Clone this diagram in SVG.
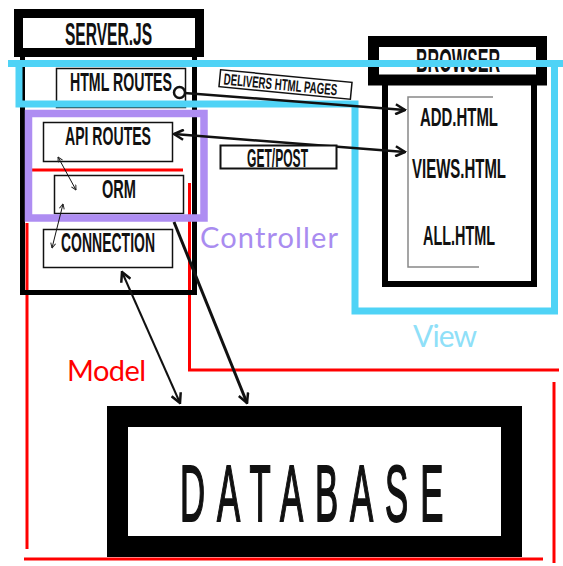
<svg xmlns="http://www.w3.org/2000/svg" width="563" height="566" viewBox="0 0 563 566">
<defs>
<style>
.lbl{font-family:"Liberation Sans",Arial,sans-serif;font-weight:bold;fill:#111}
.box{fill:#fff;stroke:#111;stroke-width:1.5}
.frame{fill:none;stroke:#000}
.red{fill:none;stroke:#f00;stroke-width:3}
.conn{fill:none;stroke:#111}
.tag{font-family:Lato,"Open Sans",sans-serif}
</style>
<marker id="ah" viewBox="0 0 12 12" markerWidth="12" markerHeight="12" refX="10.5" refY="6" markerUnits="userSpaceOnUse" orient="auto-start-reverse">
<path d="M1,1 L10.5,6 L1,11" fill="none" stroke="#111" stroke-width="2.5"/>
</marker>
<marker id="ahs" viewBox="0 0 6 6" markerWidth="6" markerHeight="6" refX="5.5" refY="3" markerUnits="userSpaceOnUse" orient="auto-start-reverse">
<path d="M0.5,0.5 L5.5,3 L0.5,5.5" fill="none" stroke="#222" stroke-width="1"/>
</marker>
</defs>
<rect width="563" height="566" fill="#fff"/>

<g id="model-region">
<path class="red" d="M32,170 H183"/>
<path class="red" d="M189.5,183 V370 H559"/>
<path class="red" d="M27,223 V549"/>
<path class="red" d="M24,559 H543"/>
<path class="red" d="M554,382 V563"/>
<text class="tag" x="67" y="381" font-size="29" fill="#f00" textLength="79" lengthAdjust="spacing">Model</text>
</g>

<g id="server">
<path class="frame" stroke-width="5" d="M22.5,57 V292.5 H197 M194.5,57 V295"/>
<rect class="frame" x="18.5" y="13.5" width="181" height="39" stroke-width="9" fill="#fff"/>
<text class="lbl" x="65" y="45" font-size="32" textLength="87" lengthAdjust="spacingAndGlyphs">SERVER.JS</text>
</g>

<g id="html-routes">
<rect class="box" x="56.5" y="68.5" width="129" height="39"/>
<text class="lbl" x="70" y="91" font-size="26" textLength="102" lengthAdjust="spacingAndGlyphs">HTML ROUTES</text>
</g>
<g id="api-routes">
<rect class="box" x="43.5" y="122.5" width="129" height="39"/>
<text class="lbl" x="65" y="145" font-size="25" textLength="86" lengthAdjust="spacingAndGlyphs">API ROUTES</text>
</g>
<g id="orm">
<rect class="box" x="54.5" y="175.5" width="129" height="38"/>
<text class="lbl" x="102" y="198" font-size="25" textLength="34" lengthAdjust="spacingAndGlyphs">ORM</text>
</g>
<g id="connection">
<rect class="box" x="43.5" y="229.5" width="129" height="38"/>
<text class="lbl" x="61" y="252" font-size="27" textLength="94" lengthAdjust="spacingAndGlyphs">CONNECTION</text>
</g>

<g id="browser">
<rect class="frame" x="385" y="82" width="149" height="202" stroke-width="6" fill="#fff"/>
<path d="M493,97 H408 V267 H479" fill="none" stroke="#888" stroke-width="1.5"/>
<rect class="frame" x="373.5" y="41.5" width="168" height="38.5" stroke-width="11" fill="#fff"/>
<text class="lbl" x="416" y="72" font-size="33" textLength="84" lengthAdjust="spacingAndGlyphs">BROWSER</text>
</g>
<g id="add-html">
<text class="lbl" x="420" y="126" font-size="26" textLength="78" lengthAdjust="spacingAndGlyphs">ADD.HTML</text>
</g>
<g id="views-html">
<text class="lbl" x="412" y="178" font-size="28" textLength="94" lengthAdjust="spacingAndGlyphs">VIEWS.HTML</text>
</g>
<g id="all-html">
<text class="lbl" x="423" y="245" font-size="28" textLength="72" lengthAdjust="spacingAndGlyphs">ALL.HTML</text>
</g>

<g id="database">
<rect class="frame" x="117.5" y="416.5" width="394" height="130" stroke-width="21" fill="#fff"/>
<text transform="scale(0.44,1)" x="409" y="521" font-family="Liberation Sans,Arial,sans-serif" font-size="79" letter-spacing="27" fill="#111" stroke="#111" stroke-width="1.5" vector-effect="non-scaling-stroke">DATABASE</text>
</g>

<g id="view-region">
<path d="M8,63.5 H563" fill="none" stroke="#4fd3f6" stroke-width="7"/>
<path d="M19,63 V104 H355 V311 H554.5 V63" fill="none" stroke="#4fd3f6" stroke-width="7"/>
<text class="tag" x="413" y="347" font-size="30" fill="#8fe0f8" textLength="64" lengthAdjust="spacing">View</text>
</g>

<g id="controller-region">
<rect x="28.5" y="113.5" width="175.5" height="104.5" fill="none" stroke="#ae8df2" stroke-width="7.5"/>
<text class="tag" x="200" y="248" font-size="29" fill="#a98cf0" textLength="138" lengthAdjust="spacing">Controller</text>
</g>

<g id="connectors">
<line class="conn" x1="184.5" y1="93" x2="405" y2="110" stroke-width="2.5" marker-end="url(#ah)"/>
<circle cx="179.5" cy="92.5" r="5.5" fill="#fff" stroke="#111" stroke-width="2.5"/>
<line class="conn" x1="174" y1="134" x2="405" y2="152" stroke-width="2.5" marker-start="url(#ah)" marker-end="url(#ah)"/>
<line class="conn" x1="58" y1="157" x2="76" y2="190" stroke-width="1" marker-start="url(#ahs)" marker-end="url(#ahs)"/>
<line class="conn" x1="63" y1="204" x2="52" y2="248" stroke-width="1" marker-start="url(#ahs)" marker-end="url(#ahs)"/>
<line class="conn" x1="122" y1="272" x2="180" y2="403" stroke-width="2" marker-start="url(#ah)" marker-end="url(#ah)"/>
<line class="conn" x1="174" y1="222" x2="247" y2="403" stroke-width="3" marker-end="url(#ah)"/>
</g>

<g id="labels">
<g transform="translate(285.5,84.5) rotate(5.5)">
<rect x="-66" y="-8.5" width="132" height="17" fill="#fff" stroke="#111" stroke-width="1.5"/>
<text class="lbl" x="-62" y="6" font-size="16" textLength="114" lengthAdjust="spacingAndGlyphs">DELIVERS HTML PAGES</text>
</g>
<rect x="220.5" y="145.5" width="116" height="23" fill="#fff" stroke="#111" stroke-width="2"/>
<text class="lbl" x="247" y="167" font-size="25" textLength="61" lengthAdjust="spacingAndGlyphs">GET/POST</text>
</g>
</svg>
